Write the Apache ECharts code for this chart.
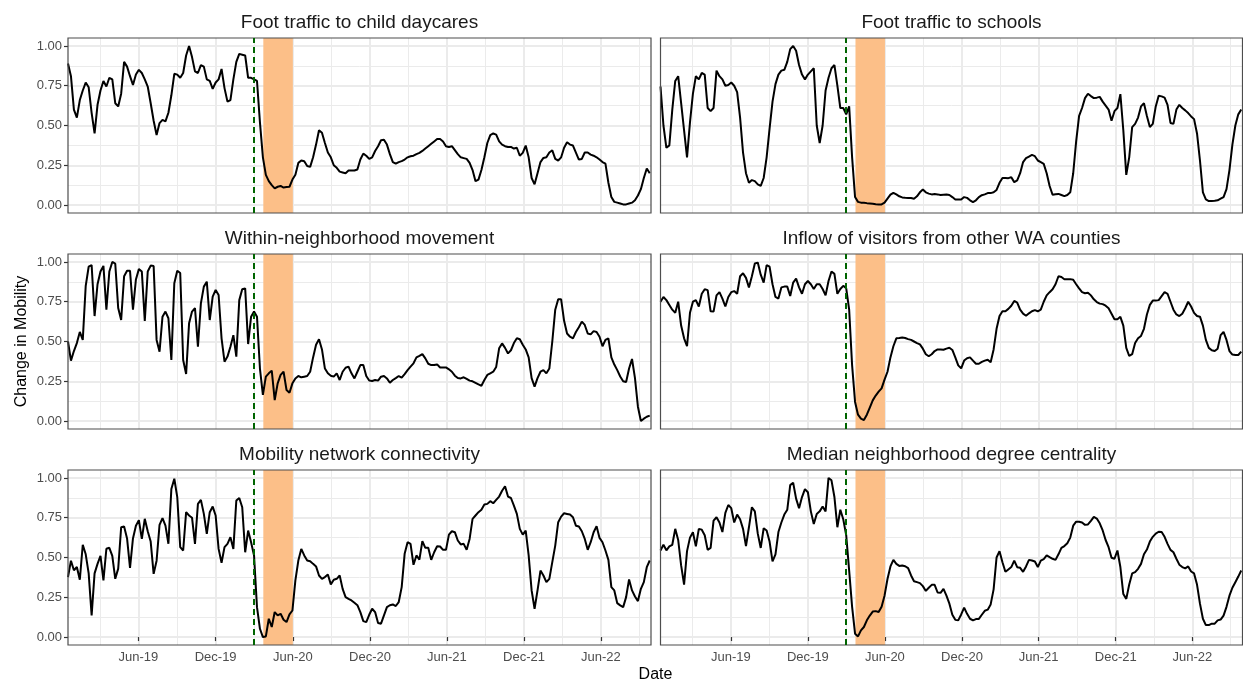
<!DOCTYPE html>
<html>
<head>
<meta charset="utf-8">
<script src="https://cdn.jsdelivr.net/npm/echarts@6/dist/echarts.min.js"></script>
<style>
html, body { margin: 0; padding: 0; background: #fff; }
#main { width: 1243px; height: 681px; }
</style>
</head>
<body>
<div id="main"></div>
<script>
// weekly observations, first one on Dec 16, 2018
var firstWeek = '2018-12-16';
var numWeeks = 198;
var xMin = '2018-12-16';
var xMax = '2022-09-28';

var majorDates = ['2019-06-01', '2019-12-01', '2020-06-01', '2020-12-01', '2021-06-01', '2021-12-01', '2022-06-01'];
var minorDates = ['2019-03-02', '2019-08-31', '2020-03-01', '2020-08-31', '2021-03-02', '2021-08-31', '2022-03-02', '2022-08-31'];
var yMajor = [0, 0.25, 0.5, 0.75, 1];
var yMinor = [0.125, 0.375, 0.625, 0.875];

var firstCaseDate = '2020-02-29';
var stayHomeOrder = ['2020-03-23', '2020-06-01'];

var panelTitles = ['Foot traffic to child daycares', 'Foot traffic to schools',
	'Within-neighborhood movement', 'Inflow of visitors from other WA counties',
	'Mobility network connectivity', 'Median neighborhood degree centrality'];

var daycares = [
	0.89, 0.81, 0.60, 0.55, 0.66, 0.72, 0.77, 0.74, 0.58, 0.45,
	0.63, 0.72, 0.78, 0.745, 0.80, 0.79, 0.64, 0.62, 0.70, 0.90,
	0.87, 0.81, 0.755, 0.82, 0.85, 0.83, 0.79, 0.745, 0.64, 0.53,
	0.44, 0.515, 0.535, 0.526, 0.58, 0.69, 0.825, 0.82, 0.80, 0.83,
	0.94, 1.00, 0.93, 0.84, 0.83, 0.88, 0.87, 0.79, 0.78, 0.73,
	0.77, 0.79, 0.855, 0.735, 0.65, 0.66, 0.79, 0.90, 0.95, 0.945,
	0.94, 0.80, 0.80, 0.79, 0.78, 0.52, 0.30, 0.19, 0.15, 0.125,
	0.105, 0.115, 0.12, 0.11, 0.113, 0.115, 0.16, 0.19, 0.265, 0.28,
	0.275, 0.245, 0.24, 0.30, 0.38, 0.47, 0.455, 0.39, 0.33, 0.30,
	0.25, 0.234, 0.21, 0.205, 0.20, 0.217, 0.217, 0.217, 0.223, 0.286,
	0.323, 0.31, 0.29, 0.30, 0.34, 0.37, 0.407, 0.41, 0.38, 0.32,
	0.27, 0.26, 0.27, 0.276, 0.286, 0.30, 0.307, 0.31, 0.32, 0.328,
	0.34, 0.355, 0.37, 0.385, 0.40, 0.415, 0.415, 0.40, 0.37, 0.365,
	0.37, 0.345, 0.32, 0.30, 0.295, 0.29, 0.265, 0.22, 0.15, 0.16,
	0.22, 0.30, 0.39, 0.44, 0.45, 0.443, 0.40, 0.38, 0.37, 0.365,
	0.365, 0.355, 0.36, 0.31, 0.328, 0.374, 0.30, 0.17, 0.13, 0.20,
	0.27, 0.296, 0.30, 0.33, 0.344, 0.29, 0.28, 0.30, 0.36, 0.395,
	0.38, 0.374, 0.33, 0.286, 0.29, 0.33, 0.33, 0.317, 0.31, 0.30,
	0.286, 0.27, 0.26, 0.14, 0.05, 0.02, 0.015, 0.01, 0.004, 0.004,
	0.01, 0.015, 0.03, 0.06, 0.10, 0.17, 0.23, 0.20
];

var schools = [
	0.745, 0.50, 0.36, 0.375, 0.60, 0.78, 0.81, 0.64, 0.47, 0.30,
	0.52, 0.70, 0.81, 0.79, 0.83, 0.82, 0.61, 0.59, 0.61, 0.845,
	0.81, 0.79, 0.75, 0.755, 0.77, 0.75, 0.71, 0.55, 0.33, 0.20,
	0.14, 0.157, 0.15, 0.13, 0.12, 0.17, 0.30, 0.48, 0.65, 0.76,
	0.82, 0.845, 0.85, 0.90, 0.98, 1.00, 0.97, 0.88, 0.82, 0.79,
	0.82, 0.84, 0.86, 0.50, 0.39, 0.50, 0.72, 0.80, 0.86, 0.88,
	0.75, 0.61, 0.61, 0.57, 0.62, 0.30, 0.05, 0.02, 0.015, 0.015,
	0.012, 0.01, 0.008, 0.005, 0.004, 0.004, 0.015, 0.04, 0.065, 0.077,
	0.067, 0.055, 0.048, 0.046, 0.045, 0.044, 0.04, 0.055, 0.08, 0.098,
	0.08, 0.072, 0.067, 0.069, 0.067, 0.063, 0.065, 0.066, 0.063, 0.05,
	0.035, 0.035, 0.035, 0.05, 0.045, 0.03, 0.019, 0.03, 0.05, 0.062,
	0.067, 0.075, 0.075, 0.08, 0.095, 0.14, 0.17, 0.17, 0.169, 0.175,
	0.144, 0.155, 0.20, 0.27, 0.295, 0.305, 0.315, 0.307, 0.28, 0.27,
	0.259, 0.20, 0.12, 0.065, 0.068, 0.07, 0.063, 0.056, 0.063, 0.08,
	0.20, 0.40, 0.56, 0.61, 0.672, 0.70, 0.685, 0.672, 0.675, 0.68,
	0.65, 0.625, 0.60, 0.53, 0.59, 0.61, 0.697, 0.47, 0.19, 0.30,
	0.49, 0.51, 0.55, 0.62, 0.64, 0.56, 0.49, 0.51, 0.62, 0.687,
	0.683, 0.675, 0.63, 0.516, 0.51, 0.60, 0.63, 0.61, 0.595, 0.578,
	0.557, 0.54, 0.45, 0.28, 0.08, 0.035, 0.025, 0.026, 0.027, 0.03,
	0.04, 0.05, 0.10, 0.22, 0.38, 0.50, 0.57, 0.60
];

var withinNeighborhood = [
	0.50, 0.38, 0.44, 0.49, 0.56, 0.51, 0.85, 0.97, 0.98, 0.66,
	0.86, 0.94, 0.975, 0.70, 0.94, 1.00, 0.99, 0.71, 0.635, 0.91,
	0.945, 0.945, 0.70, 0.89, 0.955, 0.94, 0.63, 0.94, 0.977, 0.975,
	0.51, 0.436, 0.656, 0.688, 0.646, 0.384, 0.866, 0.945, 0.93, 0.384,
	0.296, 0.614, 0.688, 0.71, 0.467, 0.74, 0.845, 0.876, 0.635, 0.782,
	0.824, 0.792, 0.52, 0.373, 0.405, 0.467, 0.54, 0.405, 0.76, 0.828,
	0.834, 0.484, 0.656, 0.688, 0.656, 0.33, 0.164, 0.279, 0.30, 0.317,
	0.132, 0.237, 0.29, 0.31, 0.195, 0.178, 0.237, 0.268, 0.283, 0.275,
	0.279, 0.283, 0.31, 0.40, 0.48, 0.514, 0.45, 0.33, 0.30, 0.285,
	0.279, 0.30, 0.258, 0.31, 0.335, 0.342, 0.30, 0.268, 0.31, 0.352,
	0.352, 0.283, 0.255, 0.252, 0.258, 0.254, 0.279, 0.283, 0.268, 0.241,
	0.258, 0.27, 0.283, 0.273, 0.295, 0.32, 0.342, 0.363, 0.40, 0.41,
	0.421, 0.394, 0.36, 0.352, 0.352, 0.356, 0.337, 0.337, 0.337, 0.325,
	0.31, 0.285, 0.27, 0.268, 0.275, 0.265, 0.254, 0.25, 0.24, 0.23,
	0.222, 0.258, 0.29, 0.30, 0.31, 0.34, 0.457, 0.488, 0.46, 0.425,
	0.445, 0.49, 0.52, 0.514, 0.48, 0.45, 0.40, 0.27, 0.216, 0.27,
	0.31, 0.32, 0.30, 0.33, 0.50, 0.70, 0.765, 0.765, 0.63, 0.55,
	0.53, 0.52, 0.56, 0.59, 0.625, 0.604, 0.55, 0.545, 0.565, 0.56,
	0.53, 0.47, 0.51, 0.52, 0.40, 0.355, 0.32, 0.28, 0.25, 0.245,
	0.33, 0.39, 0.27, 0.09, 0.0, 0.015, 0.027, 0.034
];

var inflowOtherCounties = [
	0.75, 0.78, 0.76, 0.73, 0.70, 0.68, 0.75, 0.60, 0.52, 0.47,
	0.68, 0.75, 0.76, 0.72, 0.80, 0.828, 0.823, 0.69, 0.688, 0.79,
	0.81, 0.77, 0.72, 0.78, 0.81, 0.817, 0.80, 0.91, 0.929, 0.90,
	0.84, 0.91, 0.99, 0.996, 0.92, 0.87, 0.98, 0.97, 0.86, 0.78,
	0.77, 0.84, 0.845, 0.845, 0.786, 0.87, 0.895, 0.84, 0.80, 0.86,
	0.88, 0.86, 0.83, 0.86, 0.86, 0.83, 0.79, 0.88, 0.94, 0.925,
	0.80, 0.83, 0.85, 0.834, 0.70, 0.35, 0.12, 0.04, 0.015, 0.006,
	0.04, 0.085, 0.13, 0.16, 0.185, 0.205, 0.26, 0.31, 0.40, 0.47,
	0.52, 0.522, 0.525, 0.522, 0.515, 0.51, 0.50, 0.49, 0.482, 0.455,
	0.42, 0.407, 0.42, 0.44, 0.45, 0.45, 0.448, 0.455, 0.461, 0.447,
	0.40, 0.35, 0.331, 0.38, 0.395, 0.40, 0.38, 0.36, 0.36, 0.372,
	0.38, 0.385, 0.37, 0.45, 0.58, 0.66, 0.69, 0.69, 0.705, 0.725,
	0.755, 0.745, 0.70, 0.675, 0.662, 0.677, 0.69, 0.697, 0.69, 0.70,
	0.75, 0.79, 0.81, 0.828, 0.86, 0.91, 0.905, 0.891, 0.891, 0.892,
	0.888, 0.86, 0.834, 0.81, 0.803, 0.807, 0.79, 0.765, 0.748, 0.738,
	0.735, 0.725, 0.709, 0.675, 0.64, 0.64, 0.655, 0.60, 0.46, 0.409,
	0.42, 0.49, 0.52, 0.535, 0.58, 0.67, 0.73, 0.757, 0.757, 0.76,
	0.785, 0.81, 0.80, 0.75, 0.70, 0.67, 0.66, 0.675, 0.709, 0.75,
	0.72, 0.68, 0.66, 0.656, 0.60, 0.51, 0.46, 0.445, 0.44, 0.455,
	0.54, 0.56, 0.51, 0.44, 0.418, 0.415, 0.415, 0.436
];

var networkConnectivity = [
	0.377, 0.48, 0.42, 0.44, 0.36, 0.58, 0.52, 0.40, 0.136, 0.40,
	0.46, 0.51, 0.356, 0.555, 0.561, 0.51, 0.366, 0.43, 0.69, 0.695,
	0.62, 0.435, 0.62, 0.70, 0.735, 0.617, 0.743, 0.665, 0.60, 0.397,
	0.48, 0.705, 0.747, 0.70, 0.586, 0.93, 0.995, 0.88, 0.565, 0.544,
	0.785, 0.764, 0.75, 0.586, 0.837, 0.862, 0.774, 0.649, 0.785, 0.82,
	0.764, 0.554, 0.467, 0.565, 0.586, 0.628, 0.554, 0.858, 0.874, 0.816,
	0.533, 0.669, 0.596, 0.513, 0.188, 0.052, 0.0, 0.004, 0.115, 0.063,
	0.157, 0.136, 0.146, 0.109, 0.094, 0.142, 0.167, 0.356, 0.481, 0.554,
	0.513, 0.481, 0.477, 0.46, 0.444, 0.387, 0.366, 0.377, 0.393, 0.331,
	0.36, 0.366, 0.387, 0.303, 0.251, 0.24, 0.23, 0.215, 0.20, 0.157,
	0.10, 0.094, 0.14, 0.178, 0.157, 0.088, 0.084, 0.136, 0.188, 0.20,
	0.205, 0.195, 0.22, 0.314, 0.523, 0.596, 0.586, 0.454, 0.513, 0.487,
	0.603, 0.561, 0.561, 0.485, 0.533, 0.571, 0.569, 0.548, 0.548, 0.644,
	0.665, 0.659, 0.607, 0.582, 0.586, 0.548, 0.617, 0.743, 0.764, 0.785,
	0.80, 0.833, 0.837, 0.854, 0.841, 0.862, 0.883, 0.92, 0.948, 0.883,
	0.874, 0.826, 0.774, 0.68, 0.644, 0.669, 0.513, 0.293, 0.178, 0.293,
	0.418, 0.387, 0.345, 0.366, 0.471, 0.575, 0.722, 0.757, 0.778, 0.774,
	0.77, 0.753, 0.70, 0.695, 0.665, 0.617, 0.548, 0.596, 0.659, 0.697,
	0.623, 0.596, 0.544, 0.485, 0.314, 0.293, 0.213, 0.199, 0.188, 0.251,
	0.362, 0.293, 0.255, 0.226, 0.303, 0.345, 0.439, 0.481
];

var degreeCentrality = [
	0.544, 0.58, 0.545, 0.57, 0.58, 0.68, 0.61, 0.45, 0.33, 0.54,
	0.625, 0.659, 0.57, 0.68, 0.675, 0.64, 0.548, 0.56, 0.732, 0.753,
	0.72, 0.66, 0.78, 0.83, 0.81, 0.72, 0.77, 0.74, 0.68, 0.571,
	0.69, 0.816, 0.79, 0.65, 0.56, 0.684, 0.67, 0.60, 0.475, 0.52,
	0.66, 0.72, 0.77, 0.80, 0.955, 0.97, 0.87, 0.81, 0.88, 0.93,
	0.91, 0.79, 0.71, 0.774, 0.79, 0.82, 0.79, 1.0, 0.985, 0.88,
	0.69, 0.80, 0.74, 0.64, 0.418, 0.19, 0.021, 0.004, 0.042, 0.063,
	0.105, 0.135, 0.16, 0.163, 0.157, 0.19, 0.26, 0.365, 0.444, 0.485,
	0.46, 0.447, 0.45, 0.445, 0.433, 0.387, 0.351, 0.345, 0.339, 0.32,
	0.29, 0.31, 0.328, 0.328, 0.28, 0.278, 0.303, 0.26, 0.21, 0.14,
	0.108, 0.105, 0.142, 0.185, 0.146, 0.115, 0.105, 0.113, 0.114, 0.14,
	0.165, 0.172, 0.205, 0.30, 0.50, 0.54, 0.47, 0.41, 0.425, 0.44,
	0.48, 0.439, 0.435, 0.41, 0.444, 0.485, 0.481, 0.475, 0.44, 0.48,
	0.49, 0.513, 0.502, 0.492, 0.485, 0.52, 0.56, 0.572, 0.59, 0.625,
	0.70, 0.725, 0.725, 0.72, 0.705, 0.708, 0.73, 0.755, 0.745, 0.715,
	0.67, 0.61, 0.565, 0.498, 0.492, 0.544, 0.44, 0.27, 0.24, 0.33,
	0.40, 0.408, 0.429, 0.46, 0.52, 0.55, 0.60, 0.63, 0.65, 0.662,
	0.66, 0.63, 0.586, 0.548, 0.533, 0.492, 0.455, 0.44, 0.432, 0.444,
	0.412, 0.40, 0.33, 0.21, 0.115, 0.075, 0.075, 0.084, 0.084, 0.105,
	0.11, 0.135, 0.19, 0.26, 0.31, 0.345, 0.38, 0.418
];

var panelValues = [daycares, schools, withinNeighborhood, inflowOtherCounties,
	networkConnectivity, degreeCentrality];

var fontFamily = '"Liberation Sans", Arial, Helvetica, sans-serif';
var monthNames = ['Jan', 'Feb', 'Mar', 'Apr', 'May', 'Jun', 'Jul', 'Aug', 'Sep', 'Oct', 'Nov', 'Dec'];

// 'YYYY-MM-DD' -> ms timestamp (local time)
function toTime(s) {
	var parts = s.split('-');
	return new Date(+parts[0], +parts[1] - 1, +parts[2]).getTime();
}

function weekTimes() {
	var out = [];
	var parts = firstWeek.split('-');
	for (let i = 0; i < numWeeks; i++) {
		out.push(new Date(+parts[0], +parts[1] - 1, +parts[2] + 7 * i).getTime());
	}
	return out;
}

function formatMonth(val) {
	var d = new Date(val);
	return monthNames[d.getMonth()] + '-' + String(d.getFullYear()).slice(2);
}

var weeks = weekTimes();
var majorTimes = majorDates.map(toTime);
var minorTimes = minorDates.map(toTime);

// facet layout: 3 rows x 2 columns
var colLeft = [68, 660.5];
var colWidth = [583, 582];
var rowTop = [38, 254, 470];
var panelHeight = 175;

var grids = [], xAxes = [], yAxes = [], series = [], titles = [];

for (let p = 0; p < 6; p++) {
	let col = p % 2, row = Math.floor(p / 2);
	let isLeft = col === 0, isBottom = row === 2;

	grids.push({
		left: colLeft[col], top: rowTop[row], width: colWidth[col], height: panelHeight,
		show: true, backgroundColor: 'transparent', borderColor: '#4d4d4d', borderWidth: 1.2, z: 4
	});

	xAxes.push({
		type: 'value', gridIndex: p, min: toTime(xMin), max: toTime(xMax),
		axisLine: { show: false },
		axisTick: { show: isBottom, customValues: majorTimes, length: 4, lineStyle: { color: '#333', width: 1.2 } },
		axisLabel: { show: isBottom, customValues: majorTimes, formatter: formatMonth,
			color: '#4d4d4d', fontSize: 13, fontFamily: fontFamily, margin: 6 },
		splitLine: { show: true, lineStyle: { color: '#ebebeb', width: 2 } }
	});
	xAxes.push({
		type: 'value', gridIndex: p, min: toTime(xMin), max: toTime(xMax), position: 'bottom',
		axisLine: { show: false },
		axisTick: { show: false, customValues: minorTimes },
		axisLabel: { show: false },
		splitLine: { show: true, lineStyle: { color: '#ebebeb', width: 1 } }
	});

	let yMain = {
		type: 'value', gridIndex: p, min: -0.05, max: 1.05,
		axisLine: { show: false },
		axisTick: { show: isLeft, customValues: yMajor, length: 4, lineStyle: { color: '#333', width: 1.2 } },
		axisLabel: { show: isLeft, customValues: yMajor, formatter: function (v) { return v.toFixed(2); },
			color: '#4d4d4d', fontSize: 13, fontFamily: fontFamily, margin: 6 },
		splitLine: { show: true, lineStyle: { color: '#ebebeb', width: 2 } }
	};
	if (p === 2) {
		yMain.name = 'Change in Mobility';
		yMain.nameLocation = 'middle';
		yMain.nameRotate = 90;
		yMain.nameGap = 38;
		yMain.nameTextStyle = { fontSize: 16, color: '#000', fontFamily: fontFamily };
	}
	yAxes.push(yMain);
	yAxes.push({
		type: 'value', gridIndex: p, min: -0.05, max: 1.05, position: 'left',
		axisLine: { show: false },
		axisTick: { show: false, customValues: yMinor },
		axisLabel: { show: false },
		splitLine: { show: true, lineStyle: { color: '#ebebeb', width: 1 } }
	});

	series.push({
		name: panelTitles[p],
		type: 'line',
		xAxisIndex: 2 * p,
		yAxisIndex: 2 * p,
		data: weeks.map(function (t, i) { return [t, panelValues[p][i]]; }),
		showSymbol: false,
		symbol: 'none',
		lineStyle: { color: '#000', width: 2 },
		silent: true,
		z: 2,
		markArea: {
			silent: true,
			itemStyle: { color: '#fcbf88' },
			data: [[{ xAxis: toTime(stayHomeOrder[0]) }, { xAxis: toTime(stayHomeOrder[1]) }]]
		},
		markLine: {
			silent: true,
			symbol: 'none',
			label: { show: false },
			lineStyle: { color: '#006400', type: [6, 4], width: 2 },
			data: [{ xAxis: toTime(firstCaseDate) }]
		}
	});

	titles.push({
		text: panelTitles[p],
		left: colLeft[col] + colWidth[col] / 2,
		top: rowTop[row] - 25,
		textAlign: 'center',
		padding: 0,
		textStyle: { fontSize: 19, fontWeight: 'normal', color: '#1a1a1a', fontFamily: fontFamily }
	});
}

titles.push({
	text: 'Date',
	left: 655.5,
	top: 667,
	textAlign: 'center',
	padding: 0,
	textStyle: { fontSize: 16, fontWeight: 'normal', color: '#000', fontFamily: fontFamily }
});

var chart = echarts.init(document.getElementById('main'));
chart.setOption({
	animation: false,
	backgroundColor: '#fff',
	title: titles,
	grid: grids,
	xAxis: xAxes,
	yAxis: yAxes,
	series: series
});
</script>
</body>
</html>
